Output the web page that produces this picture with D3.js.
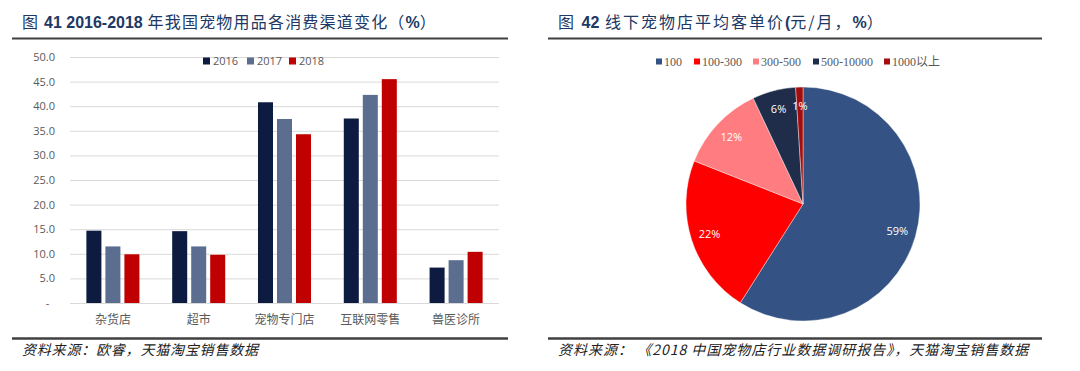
<!DOCTYPE html>
<html>
<head>
<meta charset="utf-8">
<script src="https://cdn.jsdelivr.net/npm/d3@7"></script>
<style>
  body { margin: 0; background: #fff; }
  text { font-family: "Open Sans", "Noto Sans CJK SC", sans-serif; }
</style>
</head>
<body>
<div id="chart"></div>
<script>
// bar chart data (图41)
var channels = ["杂货店", "超市", "宠物专门店", "互联网零售", "兽医诊所"];
var years = ["2016", "2017", "2018"];
var v2016 = [14.7, 14.6, 40.8, 37.5, 7.2];
var v2017 = [11.5, 11.5, 37.4, 42.3, 8.7];
var v2018 = [9.9, 9.8, 34.3, 45.5, 10.4];
var yTicks = [0, 5, 10, 15, 20, 25, 30, 35, 40, 45, 50];

// pie data (图42)
var priceBands = ["100", "100-300", "300-500", "500-10000", "1000以上"];
var priceShares = [59, 22, 12, 6, 1];

var barColors = ["#0c1b3f", "#5b6e90", "#c00000"];
var pieColors = ["#345283", "#ff0000", "#ff7c80", "#1f2d4b", "#a30d0d"];

var svg = d3.select("#chart").append("svg")
  .attr("width", 1080)
  .attr("height", 371);

var cjk = "\"Noto Sans CJK SC\", sans-serif";
var titleColor = "#203864";

// ---------- headers & footers ----------
function panelFrame(x0, x1, titleParts, spacing, source, srcSpacing) {
  var t = svg.append("text")
    .attr("x", x0 + 10)
    .attr("y", 28)
    .attr("fill", titleColor)
    .style("font-size", "16px");
  titleParts.forEach(function(p) {
    t.append("tspan")
      .style("font-family", p.bold ? "\"Liberation Sans\", sans-serif" : cjk)
      .style("font-weight", p.bold ? "bold" : "normal")
      .style("letter-spacing", p.bold ? "0px" : spacing + "px")
      .text(p.s);
  });

  svg.append("line")
    .attr("x1", x0).attr("x2", x1)
    .attr("y1", 38.5).attr("y2", 38.5)
    .attr("stroke", "#404040").attr("stroke-width", 2);

  svg.append("line")
    .attr("x1", x0).attr("x2", x1)
    .attr("y1", 338.5).attr("y2", 338.5)
    .attr("stroke", "#404040").attr("stroke-width", 2.5);

  svg.append("text")
    .attr("x", x0 + 10)
    .attr("y", 355)
    .attr("fill", "#222")
    .style("font-family", cjk)
    .style("font-style", "italic")
    .style("font-size", "14px")
    .style("letter-spacing", srcSpacing + "px")
    .text(source);
}

panelFrame(12, 508, [
  { s: "图 " },
  { s: "41 2016-2018", bold: true },
  { s: " 年我国宠物用品各消费渠道变化（" },
  { s: "%", bold: true },
  { s: "）" }
], 1.2, "资料来源：欧睿，天猫淘宝销售数据", 0.8);

panelFrame(548, 1042, [
  { s: "图 " },
  { s: "42", bold: true },
  { s: " 线下宠物店平均客单价" },
  { s: "(", bold: true },
  { s: "元/月，" },
  { s: "%", bold: true },
  { s: "）" }
], 2, "资料来源：  《2018 中国宠物店行业数据调研报告》，天猫淘宝销售数据", 1);

// ---------- bar chart ----------
var plotLeft = 70, plotRight = 499, plotTop = 57, plotBottom = 303;

var x0 = d3.scaleBand().domain(channels).range([plotLeft, plotRight]).paddingInner(0.382).paddingOuter(0.191);
var x1 = d3.scaleBand().domain(years).range([0, x0.bandwidth()]).paddingInner(0.21);
var y = d3.scaleLinear().domain([0, 50]).range([plotBottom, plotTop]);

var yAxis = svg.append("g")
  .attr("transform", `translate(${plotLeft},0)`)
  .call(d3.axisLeft(y)
    .tickValues(yTicks)
    .tickSize(-(plotRight - plotLeft))
    .tickPadding(15)
    .tickFormat(function(d) { return d === 0 ? "-\u00a0\u00a0" : d3.format(".1f")(d); }));
yAxis.select(".domain").remove();
yAxis.selectAll("line").attr("stroke", "#d9d9d9");
yAxis.selectAll("text").attr("fill", "#595959").style("font-size", "11px").style("font-family", "\"Open Sans\", sans-serif");

var series = [v2016, v2017, v2018];
var rows = channels.map(function(c, i) {
  return years.map(function(yr, j) { return { channel: c, year: yr, value: series[j][i], k: j }; });
});

svg.append("g").selectAll("g")
  .data(rows)
  .join("g")
  .attr("transform", d => `translate(${x0(d[0].channel)},0)`)
  .selectAll("rect")
  .data(d => d)
  .join("rect")
  .attr("x", d => x1(d.year))
  .attr("y", d => y(d.value))
  .attr("width", x1.bandwidth())
  .attr("height", d => plotBottom - y(d.value))
  .attr("fill", d => barColors[d.k]);

var xAxis = svg.append("g")
  .attr("transform", `translate(0,${plotBottom})`)
  .call(d3.axisBottom(x0).tickSize(0).tickPadding(12));
xAxis.select(".domain").remove();
xAxis.selectAll("text").attr("fill", "#595959").style("font-size", "12px").style("font-family", cjk);

// bar legend
var barLegend = svg.append("g").attr("transform", "translate(203,61)");
var blItems = barLegend.selectAll("g")
  .data(years)
  .join("g")
  .attr("transform", (d, i) => `translate(${[0, 44, 86][i]},0)`);
blItems.append("rect")
  .attr("x", 0).attr("y", -3.5)
  .attr("width", 7).attr("height", 7)
  .attr("fill", (d, i) => barColors[i]);
blItems.append("text")
  .attr("x", 10).attr("y", 4)
  .attr("fill", "#595959")
  .style("font-size", "11px")
  .text(d => d);

// ---------- pie chart ----------
var cx = 803, cy = 204, radius = 117;
var pie = d3.pie().sort(null).value(d => d.v);
var arc = d3.arc().innerRadius(0).outerRadius(radius);
var labelArc = d3.arc().innerRadius(radius * 0.84).outerRadius(radius * 0.84);

var pieData = pie(priceBands.map(function(b, i) { return { name: b, v: priceShares[i], k: i }; }));

var pieG = svg.append("g").attr("transform", `translate(${cx},${cy})`);
pieG.selectAll("path")
  .data(pieData)
  .join("path")
  .attr("d", arc)
  .attr("fill", d => pieColors[d.data.k])
  .attr("stroke", "#ffffff")
  .attr("stroke-width", 0.4);

pieG.selectAll("text")
  .data(pieData)
  .join("text")
  .attr("transform", d => `translate(${labelArc.centroid(d)})`)
  .attr("text-anchor", "middle")
  .attr("dy", "0.35em")
  .attr("fill", "#ffffff")
  .style("font-size", "11px")
  .text(d => d.data.v + "%");

// pie legend
var legendX = [656, 694, 753, 813, 884];
var pl = svg.append("g").attr("transform", "translate(0,62)").selectAll("g")
  .data(priceBands)
  .join("g")
  .attr("transform", (d, i) => `translate(${legendX[i]},0)`);
pl.append("rect")
  .attr("x", 0).attr("y", -3.5)
  .attr("width", 6).attr("height", 6)
  .attr("fill", (d, i) => pieColors[i]);
pl.append("text")
  .attr("x", 8).attr("y", 4)
  .attr("fill", "#595959")
  .style("font-family", "\"Liberation Serif\", \"Noto Sans CJK SC\", serif")
  .style("font-size", "12px")
  .text(d => d);
</script>
</body>
</html>
